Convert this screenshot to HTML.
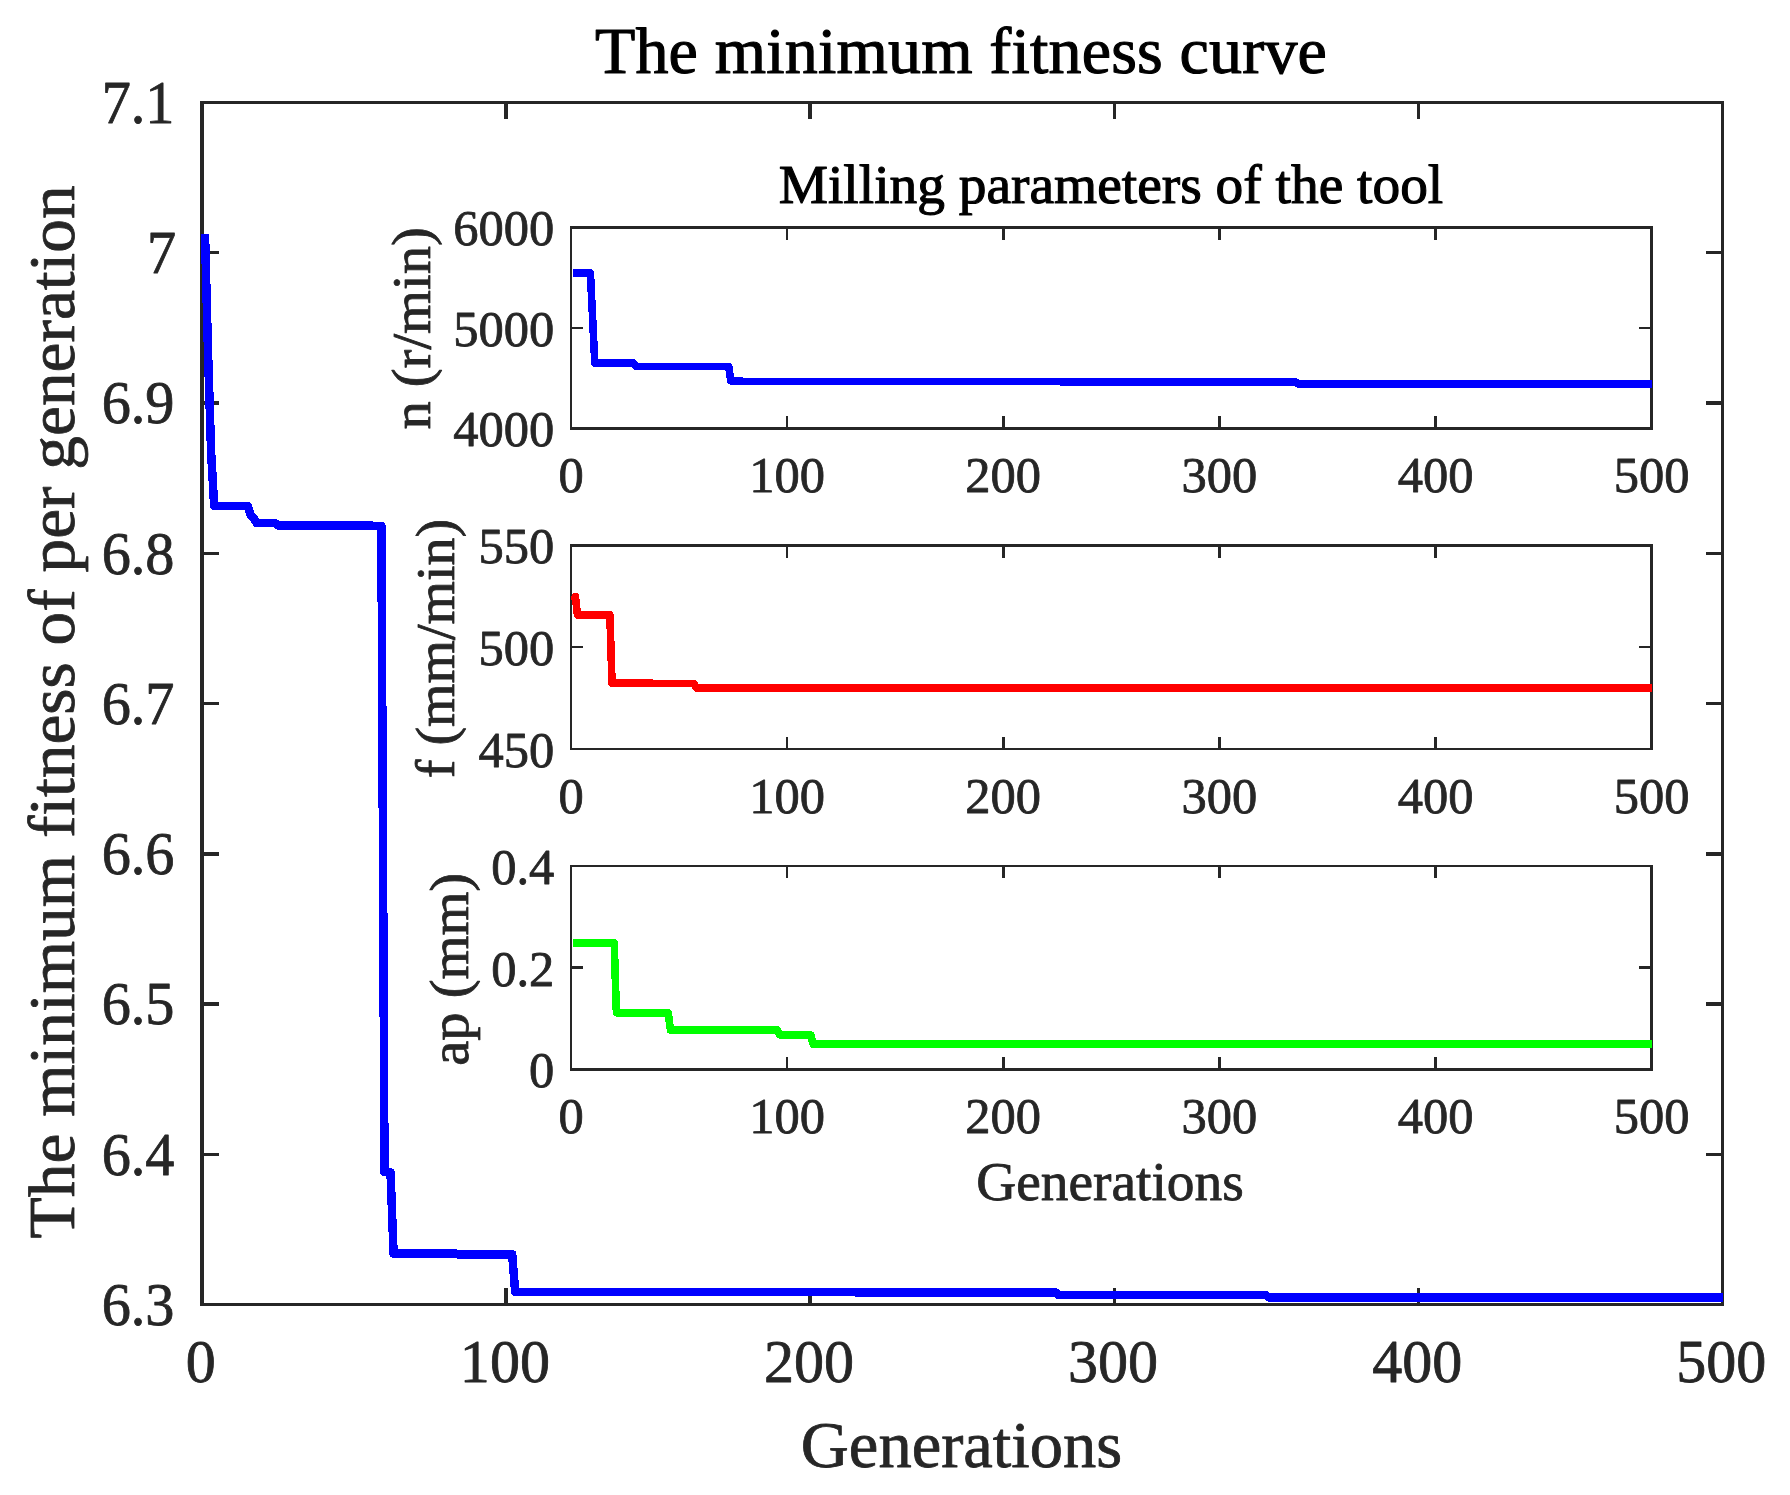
<!DOCTYPE html>
<html lang="en">
<head>
<meta charset="utf-8">
<title>The minimum fitness curve</title>
<style>
html,body{margin:0;padding:0;background:#fff;}
body{width:1790px;height:1495px;overflow:hidden;}
svg{display:block;}
text{font-family:"Liberation Serif",serif;fill:#262626;stroke:#262626;stroke-width:0.8px;stroke-linejoin:round;}
.t{fill:#000;stroke:#000;stroke-width:1.1px;}
</style>
</head>
<body>
<svg width="1790" height="1495" viewBox="0 0 1790 1495">
<rect x="0" y="0" width="1790" height="1495" fill="#ffffff"/>

<g id="main-axes" shape-rendering="crispEdges">
<rect x="504.35" y="1287.7" width="3.5" height="17.0" fill="#262626"/>
<rect x="504.35" y="102.4" width="3.5" height="17.0" fill="#262626"/>
<rect x="808.45" y="1287.7" width="3.5" height="17.0" fill="#262626"/>
<rect x="808.45" y="102.4" width="3.5" height="17.0" fill="#262626"/>
<rect x="1112.55" y="1287.7" width="3.5" height="17.0" fill="#262626"/>
<rect x="1112.55" y="102.4" width="3.5" height="17.0" fill="#262626"/>
<rect x="1416.65" y="1287.7" width="3.5" height="17.0" fill="#262626"/>
<rect x="1416.65" y="102.4" width="3.5" height="17.0" fill="#262626"/>
<rect x="202.0" y="250.938" width="17.0" height="3.5" fill="#262626"/>
<rect x="1705.5" y="250.938" width="17.0" height="3.5" fill="#262626"/>
<rect x="202.0" y="401.225" width="17.0" height="3.5" fill="#262626"/>
<rect x="1705.5" y="401.225" width="17.0" height="3.5" fill="#262626"/>
<rect x="202.0" y="551.512" width="17.0" height="3.5" fill="#262626"/>
<rect x="1705.5" y="551.512" width="17.0" height="3.5" fill="#262626"/>
<rect x="202.0" y="701.8" width="17.0" height="3.5" fill="#262626"/>
<rect x="1705.5" y="701.8" width="17.0" height="3.5" fill="#262626"/>
<rect x="202.0" y="852.087" width="17.0" height="3.5" fill="#262626"/>
<rect x="1705.5" y="852.087" width="17.0" height="3.5" fill="#262626"/>
<rect x="202.0" y="1002.375" width="17.0" height="3.5" fill="#262626"/>
<rect x="1705.5" y="1002.375" width="17.0" height="3.5" fill="#262626"/>
<rect x="202.0" y="1152.663" width="17.0" height="3.5" fill="#262626"/>
<rect x="1705.5" y="1152.663" width="17.0" height="3.5" fill="#262626"/>
<rect x="200.25" y="100.65" width="3.5" height="1205.8" fill="#262626"/>
<rect x="1720.75" y="100.65" width="3.5" height="1205.8" fill="#262626"/>
<rect x="200.25" y="100.65" width="1524.0" height="3.5" fill="#262626"/>
<rect x="200.25" y="1302.95" width="1524.0" height="3.5" fill="#262626"/>
</g>
<g id="main-ticklabels" font-size="61">
<text x="200.8" y="1382" text-anchor="middle" textLength="30.0" lengthAdjust="spacingAndGlyphs">0</text>
<text x="504.9" y="1382" text-anchor="middle" textLength="90.1" lengthAdjust="spacingAndGlyphs">100</text>
<text x="809.0" y="1382" text-anchor="middle" textLength="90.1" lengthAdjust="spacingAndGlyphs">200</text>
<text x="1113.1" y="1382" text-anchor="middle" textLength="90.1" lengthAdjust="spacingAndGlyphs">300</text>
<text x="1417.2" y="1382" text-anchor="middle" textLength="90.1" lengthAdjust="spacingAndGlyphs">400</text>
<text x="1721.3" y="1382" text-anchor="middle" textLength="90.1" lengthAdjust="spacingAndGlyphs">500</text>
<text x="174.5" y="122.6" text-anchor="end" textLength="72.8" lengthAdjust="spacingAndGlyphs">7.1</text>
<text x="176" y="272.9" text-anchor="end" textLength="29.1" lengthAdjust="spacingAndGlyphs">7</text>
<text x="174.5" y="423.2" text-anchor="end" textLength="72.8" lengthAdjust="spacingAndGlyphs">6.9</text>
<text x="174.5" y="573.5" text-anchor="end" textLength="72.8" lengthAdjust="spacingAndGlyphs">6.8</text>
<text x="174.5" y="723.8" text-anchor="end" textLength="72.8" lengthAdjust="spacingAndGlyphs">6.7</text>
<text x="174.5" y="874.0" text-anchor="end" textLength="72.8" lengthAdjust="spacingAndGlyphs">6.6</text>
<text x="174.5" y="1024.3" text-anchor="end" textLength="72.8" lengthAdjust="spacingAndGlyphs">6.5</text>
<text x="174.5" y="1174.6" text-anchor="end" textLength="72.8" lengthAdjust="spacingAndGlyphs">6.4</text>
<text x="174.5" y="1324.9" text-anchor="end" textLength="72.8" lengthAdjust="spacingAndGlyphs">6.3</text>
</g>
<text class="t" x="960.9" y="73.2" font-size="66" text-anchor="middle" textLength="732" lengthAdjust="spacing">The minimum fitness curve</text>
<text x="961.5" y="1466.8" font-size="66.5" text-anchor="middle">Generations</text>
<text transform="translate(73.9 711.9) rotate(-90)" font-size="66" text-anchor="middle" textLength="1053" lengthAdjust="spacingAndGlyphs">The minimum fitness of per generation</text>
<g id="inset1"><g shape-rendering="crispEdges">
<rect x="785.85" y="416.2" width="2.5" height="12.3" fill="#262626"/>
<rect x="785.85" y="227.5" width="2.5" height="12.3" fill="#262626"/>
<rect x="1002.0" y="416.2" width="2.5" height="12.3" fill="#262626"/>
<rect x="1002.0" y="227.5" width="2.5" height="12.3" fill="#262626"/>
<rect x="1218.15" y="416.2" width="2.5" height="12.3" fill="#262626"/>
<rect x="1218.15" y="227.5" width="2.5" height="12.3" fill="#262626"/>
<rect x="1434.3" y="416.2" width="2.5" height="12.3" fill="#262626"/>
<rect x="1434.3" y="227.5" width="2.5" height="12.3" fill="#262626"/>
<rect x="570.95" y="326.75" width="12.3" height="2.5" fill="#262626"/>
<rect x="1639.4" y="326.75" width="12.3" height="2.5" fill="#262626"/>
<rect x="569.7" y="226.25" width="2.5" height="203.5" fill="#262626"/>
<rect x="1650.45" y="226.25" width="2.5" height="203.5" fill="#262626"/>
<rect x="569.7" y="226.25" width="1083.25" height="2.5" fill="#262626"/>
<rect x="569.7" y="427.25" width="1083.25" height="2.5" fill="#262626"/>
</g>
<g font-size="50.5">
<text x="571.0" y="492.3" text-anchor="middle">0</text>
<text x="787.1" y="492.3" text-anchor="middle">100</text>
<text x="1003.2" y="492.3" text-anchor="middle">200</text>
<text x="1219.4" y="492.3" text-anchor="middle">300</text>
<text x="1435.6" y="492.3" text-anchor="middle">400</text>
<text x="1651.7" y="492.3" text-anchor="middle">500</text>
<text x="554.3" y="245.4" text-anchor="end">6000</text>
<text x="554.3" y="345.9" text-anchor="end">5000</text>
<text x="554.3" y="446.4" text-anchor="end">4000</text>
</g></g>
<g id="inset2"><g shape-rendering="crispEdges">
<rect x="785.85" y="736.6500000000001" width="2.5" height="12.3" fill="#262626"/>
<rect x="785.85" y="545.5" width="2.5" height="12.3" fill="#262626"/>
<rect x="1002.0" y="736.6500000000001" width="2.5" height="12.3" fill="#262626"/>
<rect x="1002.0" y="545.5" width="2.5" height="12.3" fill="#262626"/>
<rect x="1218.15" y="736.6500000000001" width="2.5" height="12.3" fill="#262626"/>
<rect x="1218.15" y="545.5" width="2.5" height="12.3" fill="#262626"/>
<rect x="1434.3" y="736.6500000000001" width="2.5" height="12.3" fill="#262626"/>
<rect x="1434.3" y="545.5" width="2.5" height="12.3" fill="#262626"/>
<rect x="570.95" y="645.975" width="12.3" height="2.5" fill="#262626"/>
<rect x="1639.4" y="645.975" width="12.3" height="2.5" fill="#262626"/>
<rect x="569.7" y="544.25" width="2.5" height="205.95" fill="#262626"/>
<rect x="1650.45" y="544.25" width="2.5" height="205.95" fill="#262626"/>
<rect x="569.7" y="544.25" width="1083.25" height="2.5" fill="#262626"/>
<rect x="569.7" y="747.7" width="1083.25" height="2.5" fill="#262626"/>
</g>
<g font-size="50.5">
<text x="571.0" y="812.8" text-anchor="middle">0</text>
<text x="787.1" y="812.8" text-anchor="middle">100</text>
<text x="1003.2" y="812.8" text-anchor="middle">200</text>
<text x="1219.4" y="812.8" text-anchor="middle">300</text>
<text x="1435.6" y="812.8" text-anchor="middle">400</text>
<text x="1651.7" y="812.8" text-anchor="middle">500</text>
<text x="554.3" y="563.4" text-anchor="end">550</text>
<text x="554.3" y="665.1" text-anchor="end">500</text>
<text x="554.3" y="766.9" text-anchor="end">450</text>
</g></g>
<g id="inset3"><g shape-rendering="crispEdges">
<rect x="785.85" y="1057.1000000000001" width="2.5" height="12.3" fill="#262626"/>
<rect x="785.85" y="866" width="2.5" height="12.3" fill="#262626"/>
<rect x="1002.0" y="1057.1000000000001" width="2.5" height="12.3" fill="#262626"/>
<rect x="1002.0" y="866" width="2.5" height="12.3" fill="#262626"/>
<rect x="1218.15" y="1057.1000000000001" width="2.5" height="12.3" fill="#262626"/>
<rect x="1218.15" y="866" width="2.5" height="12.3" fill="#262626"/>
<rect x="1434.3" y="1057.1000000000001" width="2.5" height="12.3" fill="#262626"/>
<rect x="1434.3" y="866" width="2.5" height="12.3" fill="#262626"/>
<rect x="570.95" y="966.45" width="12.3" height="2.5" fill="#262626"/>
<rect x="1639.4" y="966.45" width="12.3" height="2.5" fill="#262626"/>
<rect x="569.7" y="864.75" width="2.5" height="205.9" fill="#262626"/>
<rect x="1650.45" y="864.75" width="2.5" height="205.9" fill="#262626"/>
<rect x="569.7" y="864.75" width="1083.25" height="2.5" fill="#262626"/>
<rect x="569.7" y="1068.15" width="1083.25" height="2.5" fill="#262626"/>
</g>
<g font-size="50.5">
<text x="571.0" y="1133.2" text-anchor="middle">0</text>
<text x="787.1" y="1133.2" text-anchor="middle">100</text>
<text x="1003.2" y="1133.2" text-anchor="middle">200</text>
<text x="1219.4" y="1133.2" text-anchor="middle">300</text>
<text x="1435.6" y="1133.2" text-anchor="middle">400</text>
<text x="1651.7" y="1133.2" text-anchor="middle">500</text>
<text x="554.3" y="883.9" text-anchor="end">0.4</text>
<text x="554.3" y="985.6" text-anchor="end">0.2</text>
<text x="554.3" y="1087.3" text-anchor="end">0</text>
</g></g>
<text class="t" x="1111" y="202.6" font-size="55.4" text-anchor="middle">Milling parameters of the tool</text>
<text x="1110" y="1199.6" font-size="55.4" text-anchor="middle">Generations</text>
<text transform="translate(430.1 328.4) rotate(-90)" font-size="55.4" text-anchor="middle" textLength="202.4" lengthAdjust="spacingAndGlyphs">n (r/min)</text>
<text transform="translate(454.2 648.6) rotate(-90)" font-size="55.4" text-anchor="middle" textLength="259.2" lengthAdjust="spacingAndGlyphs">f (mm/min)</text>
<text transform="translate(468.2 969.3) rotate(-90)" font-size="55.4" text-anchor="middle" textLength="193" lengthAdjust="spacingAndGlyphs">ap (mm)</text>
<defs><clipPath id="cm"><rect x="201" y="104" width="1522" height="1202"/></clipPath><clipPath id="ci"><rect x="571" y="200" width="1081" height="900"/></clipPath></defs>
<polyline points="205.0,234.0 208.1,355.0 211.1,452.0 214.2,506.0 247.6,506.0 250.7,515.5 253.7,518.0 256.7,523.0 275.0,523.0 278.0,525.5 371.0,525.5 374.0,526.0 381.4,526.0 384.5,1172.0 390.5,1172.5 393.6,1253.5 455.0,1253.5 458.0,1254.3 512.2,1254.3 515.2,1292.0 854.0,1292.0 857.0,1292.6 1056.0,1292.6 1059.0,1295.2 1266.0,1295.2 1269.0,1297.4 1723.5,1297.4" fill="none" stroke="#0000ff" stroke-width="8.5" stroke-linejoin="round" stroke-linecap="butt" shape-rendering="crispEdges" clip-path="url(#cm)"/>
<polyline points="573.2,273.0 590.4,273.0 594.8,363.0 633.6,363.0 635.8,366.4 728.7,366.4 730.8,380.8 741.0,380.8 743.0,381.6 1060.0,381.6 1062.0,382.2 1296.0,382.2 1298.5,384.0 1652.0,384.0" fill="none" stroke="#0000ff" stroke-width="7.6" stroke-linejoin="round" stroke-linecap="butt" shape-rendering="crispEdges" clip-path="url(#ci)"/>
<polyline points="573.2,601.0 575.4,596.5 577.5,615.0 609.9,615.0 612.0,683.0 651.0,683.0 653.0,683.5 694.0,683.5 696.5,688.0 1652.0,688.0" fill="none" stroke="#ff0000" stroke-width="7.6" stroke-linejoin="round" stroke-linecap="butt" shape-rendering="crispEdges" clip-path="url(#ci)"/>
<polyline points="573.2,943.0 614.2,943.0 616.4,1012.7 668.2,1012.7 670.4,1030.0 777.5,1030.0 779.8,1035.0 810.8,1035.0 813.0,1044.0 1652.0,1044.0" fill="none" stroke="#00ff00" stroke-width="7.6" stroke-linejoin="round" stroke-linecap="butt" shape-rendering="crispEdges" clip-path="url(#ci)"/>
</svg>
</body>
</html>
